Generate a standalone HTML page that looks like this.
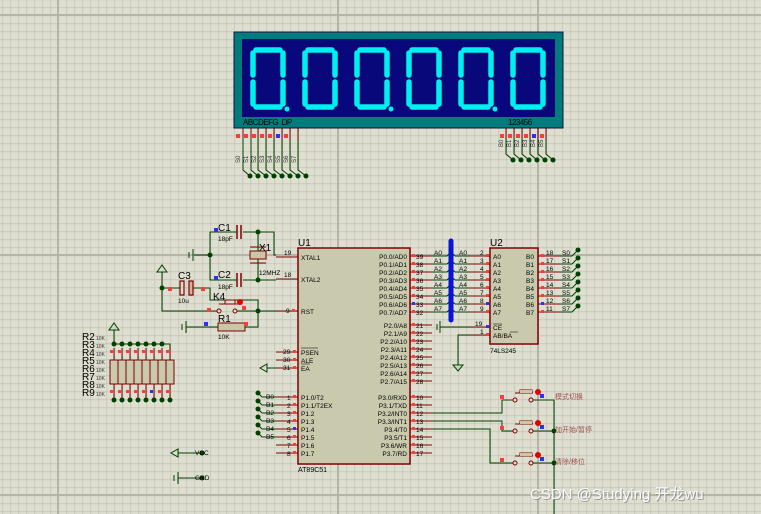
<!DOCTYPE html>
<html><head><meta charset="utf-8"><style>
html,body{margin:0;padding:0;background:#dedfd0;}
svg{display:block}
text{font-family:"Liberation Sans","Noto Sans CJK SC",sans-serif}
</style></head><body>
<svg width="761" height="514" viewBox="0 0 761 514" xmlns="http://www.w3.org/2000/svg">
<defs>
<pattern id="g" x="2.5" y="-0.5" width="8" height="8" patternUnits="userSpaceOnUse">
<path d="M0 0H8M0 0V8" stroke="#bcbdae" stroke-width="1.2" fill="none"/>
</pattern>
</defs>
<rect width="761" height="514" fill="#dedfd0"/>
<rect width="761" height="514" fill="url(#g)"/>
<g stroke="#b4b5a6" stroke-width="2">
<path d="M58 0V514M338 0V514M538 0V514M0 15H761M0 255H761M0 495H761"/>
</g>

<!-- DISPLAY -->
<rect x="234" y="32" width="329" height="96" fill="#007c7c" stroke="#101040" stroke-width="1"/>
<rect x="242" y="39" width="313" height="78" fill="#08087a"/>
<g stroke="#0000a0" stroke-width="0.6"><path d="M294 40V116M346 40V116M398 40V116M450 40V116M502 40V116"/></g>
<g fill="none" stroke="#00f0f0" stroke-width="5.5" stroke-linecap="round" stroke-linejoin="round">
<path d="M256 50H280M283 53V75M283 82V104M256 107H280M253 82V104M253 53V75"/>
<path d="M308 50H332M335 53V75M335 82V104M308 107H332M305 82V104M305 53V75"/>
<path d="M360 50H384M387 53V75M387 82V104M360 107H384M357 82V104M357 53V75"/>
<path d="M412 50H436M439 53V75M439 82V104M412 107H436M409 82V104M409 53V75"/>
<path d="M464 50H488M491 53V75M491 82V104M464 107H488M461 82V104M461 53V75"/>
<path d="M516 50H540M543 53V75M543 82V104M516 107H540M513 82V104M513 53V75"/>
</g>
<g fill="#00f0f0"><circle cx="287" cy="109" r="2.5"/><circle cx="391" cy="109" r="2.5"/><circle cx="495" cy="109" r="2.5"/></g>
<text x="243" y="125" font-size="8" fill="#000" letter-spacing="-0.5">ABCDEFG&#160;&#160;DP</text>
<text x="508" y="125" font-size="8" fill="#000" letter-spacing="-0.5">123456</text>
<!-- segment pins -->
<g stroke="#800000" stroke-width="1"><path d="M243 128V140M251 128V140M258 128V140M266 128V140M274 128V140M282 128V140M290 128V140M298 128V140M506 128V140M514 128V140M522 128V140M530 128V140M538 128V140M546 128V140"/></g>
<g fill="#f04040"><rect x="236" y="134" width="4" height="4"/><rect x="244" y="134" width="4" height="4"/><rect x="252" y="134" width="4" height="4"/><rect x="260" y="134" width="4" height="4"/><rect x="268" y="134" width="4" height="4"/><rect x="284" y="134" width="4" height="4"/><rect x="500" y="134" width="4" height="4"/><rect x="508" y="134" width="4" height="4"/><rect x="516" y="134" width="4" height="4"/><rect x="524" y="134" width="4" height="4"/><rect x="540" y="134" width="4" height="4"/></g>
<g fill="#3030f0"><rect x="276" y="134" width="4" height="4"/><rect x="532" y="134" width="4" height="4"/></g>
<g stroke="#004000" stroke-width="1" fill="none"><path d="M243 140V170L250 176M251 140V170L258 176M258 140V170L266 176M266 140V170L274 176M274 140V170L282 176M282 140V170L290 176M290 140V170L298 176M298 140V170L306 176M506 140V154L513 160M514 140V154L521 160M522 140V154L529 160M530 140V154L537 160M538 140V154L545 160M546 140V154L553 160"/></g>
<g fill="#004000"><circle cx="250" cy="176" r="2.5"/><circle cx="258" cy="176" r="2.5"/><circle cx="266" cy="176" r="2.5"/><circle cx="274" cy="176" r="2.5"/><circle cx="282" cy="176" r="2.5"/><circle cx="290" cy="176" r="2.5"/><circle cx="298" cy="176" r="2.5"/><circle cx="306" cy="176" r="2.5"/>
<circle cx="513" cy="160" r="2.5"/><circle cx="521" cy="160" r="2.5"/><circle cx="529" cy="160" r="2.5"/><circle cx="537" cy="160" r="2.5"/><circle cx="545" cy="160" r="2.5"/><circle cx="553" cy="160" r="2.5"/></g>
<g font-size="6" fill="#333"><text transform="translate(240,163) rotate(-90)">S0</text><text transform="translate(248,163) rotate(-90)">S1</text><text transform="translate(256,163) rotate(-90)">S2</text><text transform="translate(264,163) rotate(-90)">S3</text><text transform="translate(272,163) rotate(-90)">S4</text><text transform="translate(280,163) rotate(-90)">S5</text><text transform="translate(288,163) rotate(-90)">S6</text><text transform="translate(296,163) rotate(-90)">S7</text>
<text transform="translate(503,147) rotate(-90)">B0</text><text transform="translate(511,147) rotate(-90)">B1</text><text transform="translate(519,147) rotate(-90)">B2</text><text transform="translate(527,147) rotate(-90)">B3</text><text transform="translate(535,147) rotate(-90)">B4</text><text transform="translate(543,147) rotate(-90)">B5</text></g>

<!-- U1 -->
<rect x="298" y="248" width="112" height="216" fill="#c9c9ae" stroke="#800000" stroke-width="1.5"/>
<text x="298" y="246" font-size="10">U1</text>
<text x="298" y="472" font-size="7">AT89C51</text>
<g stroke="#800000" stroke-width="1"><path d="M276 257H298M276 279H298M276 311H298M276 352H298M276 360H298M276 368H298M276 397H298M276 405H298M276 413H298M276 421H298M276 429H298M276 437H298M276 445H298M276 453H298
M410 256H432M410 264H432M410 272H432M410 280H432M410 288H432M410 296H432M410 304H432M410 312H432M410 325H432M410 333H432M410 341H432M410 349H432M410 357H432M410 365H432M410 373H432M410 381H432
M410 397H432M410 405H432M410 413H432M410 421H432M410 429H432M410 437H432M410 445H432M410 453H432"/></g>
<g font-size="6.5" fill="#000">
<text x="301" y="260">XTAL1</text><text x="301" y="282">XTAL2</text><text x="301" y="314">RST</text>
<text x="301" y="355">PSEN</text><text x="301" y="363">ALE</text><text x="301" y="371">EA</text>
<text x="301" y="400">P1.0/T2</text><text x="301" y="408">P1.1/T2EX</text><text x="301" y="416">P1.2</text><text x="301" y="424">P1.3</text><text x="301" y="432">P1.4</text><text x="301" y="440">P1.5</text><text x="301" y="448">P1.6</text><text x="301" y="456">P1.7</text>
</g>
<path d="M301 348H318M301 364H310" stroke="#000" stroke-width="0.6"/>
<g font-size="6.5" fill="#000" text-anchor="end">
<text x="407" y="259">P0.0/AD0</text><text x="407" y="267">P0.1/AD1</text><text x="407" y="275">P0.2/AD2</text><text x="407" y="283">P0.3/AD3</text><text x="407" y="291">P0.4/AD4</text><text x="407" y="299">P0.5/AD5</text><text x="407" y="307">P0.6/AD6</text><text x="407" y="315">P0.7/AD7</text>
<text x="407" y="328">P2.0/A8</text><text x="407" y="336">P2.1/A9</text><text x="407" y="344">P2.2/A10</text><text x="407" y="352">P2.3/A11</text><text x="407" y="360">P2.4/A12</text><text x="407" y="368">P2.5/A13</text><text x="407" y="376">P2.6/A14</text><text x="407" y="384">P2.7/A15</text>
<text x="407" y="400">P3.0/RXD</text><text x="407" y="408">P3.1/TXD</text><text x="407" y="416">P3.2/INT0</text><text x="407" y="424">P3.3/INT1</text><text x="407" y="432">P3.4/T0</text><text x="407" y="440">P3.5/T1</text><text x="407" y="448">P3.6/WR</text><text x="407" y="456">P3.7/RD</text>
</g>
<g font-size="6.5" fill="#000">
<text x="416" y="259">39</text><text x="416" y="267">38</text><text x="416" y="275">37</text><text x="416" y="283">36</text><text x="416" y="291">35</text><text x="416" y="299">34</text><text x="416" y="307">33</text><text x="416" y="315">32</text>
<text x="416" y="328">21</text><text x="416" y="336">22</text><text x="416" y="344">23</text><text x="416" y="352">24</text><text x="416" y="360">25</text><text x="416" y="368">26</text><text x="416" y="376">27</text><text x="416" y="384">28</text>
<text x="416" y="400">10</text><text x="416" y="408">11</text><text x="416" y="416">12</text><text x="416" y="424">13</text><text x="416" y="432">14</text><text x="416" y="440">15</text><text x="416" y="448">16</text><text x="416" y="456">17</text>
<text x="284" y="255">19</text><text x="284" y="277">18</text><text x="286" y="313">9</text><text x="283" y="354">29</text><text x="283" y="362">30</text><text x="283" y="370">31</text>
<text x="287" y="400">1</text><text x="287" y="408">2</text><text x="287" y="416">3</text><text x="287" y="424">4</text><text x="287" y="432">5</text><text x="287" y="440">6</text><text x="287" y="448">7</text><text x="287" y="456">8</text>
</g>
<g fill="#f04040"><rect x="412" y="254" width="3" height="3"/><rect x="412" y="262" width="3" height="3"/><rect x="412" y="270" width="3" height="3"/><rect x="412" y="278" width="3" height="3"/><rect x="412" y="286" width="3" height="3"/><rect x="412" y="294" width="3" height="3"/><rect x="412" y="310" width="3" height="3"/>
<rect x="412" y="323" width="3" height="3"/><rect x="412" y="331" width="3" height="3"/><rect x="412" y="339" width="3" height="3"/><rect x="412" y="347" width="3" height="3"/><rect x="412" y="355" width="3" height="3"/><rect x="412" y="363" width="3" height="3"/><rect x="412" y="371" width="3" height="3"/><rect x="412" y="379" width="3" height="3"/>
<rect x="412" y="395" width="3" height="3"/><rect x="412" y="403" width="3" height="3"/><rect x="412" y="411" width="3" height="3"/><rect x="412" y="419" width="3" height="3"/><rect x="412" y="427" width="3" height="3"/><rect x="412" y="435" width="3" height="3"/><rect x="412" y="443" width="3" height="3"/><rect x="412" y="451" width="3" height="3"/>
<rect x="292" y="309" width="3" height="3"/><rect x="293" y="350" width="3" height="3"/><rect x="293" y="358" width="3" height="3"/><rect x="293" y="366" width="3" height="3"/>
<rect x="293" y="395" width="3" height="3"/><rect x="293" y="403" width="3" height="3"/><rect x="293" y="411" width="3" height="3"/><rect x="293" y="419" width="3" height="3"/><rect x="293" y="435" width="3" height="3"/><rect x="293" y="443" width="3" height="3"/><rect x="293" y="451" width="3" height="3"/></g>
<g fill="#3030f0"><rect x="412" y="302" width="3" height="3"/><rect x="293" y="427" width="3" height="3"/></g>

<!-- bus -->
<g stroke="#004000" stroke-width="1" fill="none"><path d="M432 256H447L451 252M432 264H447L451 260M432 272H447L451 268M432 280H447L451 276M432 288H447L451 284M432 296H447L451 292M432 304H447L451 300M432 312H447L451 308
M470 256H455L451 252M470 264H455L451 260M470 272H455L451 268M470 280H455L451 276M470 288H455L451 284M470 296H455L451 292M470 304H455L451 300M470 312H455L451 308"/></g>
<path d="M451 241V320" stroke="#0a14d8" stroke-width="5" stroke-linecap="round"/>
<g font-size="6.5" fill="#000"><text x="434" y="255">A0</text><text x="434" y="263">A1</text><text x="434" y="271">A2</text><text x="434" y="279">A3</text><text x="434" y="287">A4</text><text x="434" y="295">A5</text><text x="434" y="303">A6</text><text x="434" y="311">A7</text>
<text x="459" y="255">A0</text><text x="459" y="263">A1</text><text x="459" y="271">A2</text><text x="459" y="279">A3</text><text x="459" y="287">A4</text><text x="459" y="295">A5</text><text x="459" y="303">A6</text><text x="459" y="311">A7</text></g>

<!-- U2 -->
<rect x="490" y="248" width="48" height="96" fill="#c9c9ae" stroke="#800000" stroke-width="1.5"/>
<text x="490" y="246" font-size="10">U2</text>
<text x="490" y="353" font-size="6.5">74LS245</text>
<g stroke="#800000" stroke-width="1"><path d="M470 256H490M470 264H490M470 272H490M470 280H490M470 288H490M470 296H490M470 304H490M470 312H490M470 327H490M470 335H490
M538 256H560M538 264H560M538 272H560M538 280H560M538 288H560M538 296H560M538 304H560M538 312H560"/></g>
<g font-size="6.5" fill="#000">
<text x="493" y="259">A0</text><text x="493" y="267">A1</text><text x="493" y="275">A2</text><text x="493" y="283">A3</text><text x="493" y="291">A4</text><text x="493" y="299">A5</text><text x="493" y="307">A6</text><text x="493" y="315">A7</text>
<text x="493" y="330">CE</text><text x="493" y="338">AB/BA</text>
<text x="526" y="259">B0</text><text x="526" y="267">B1</text><text x="526" y="275">B2</text><text x="526" y="283">B3</text><text x="526" y="291">B4</text><text x="526" y="299">B5</text><text x="526" y="307">B6</text><text x="526" y="315">B7</text>
<text x="480" y="255">2</text><text x="480" y="263">3</text><text x="480" y="271">4</text><text x="480" y="279">5</text><text x="480" y="287">6</text><text x="480" y="295">7</text><text x="480" y="303">8</text><text x="480" y="311">9</text><text x="475" y="326">19</text><text x="480" y="334">1</text>
<text x="546" y="255">18</text><text x="546" y="263">17</text><text x="546" y="271">16</text><text x="546" y="279">15</text><text x="546" y="287">14</text><text x="546" y="295">13</text><text x="546" y="303">12</text><text x="546" y="311">11</text>
<text x="562" y="255">S0</text><text x="562" y="263">S1</text><text x="562" y="271">S2</text><text x="562" y="279">S3</text><text x="562" y="287">S4</text><text x="562" y="295">S5</text><text x="562" y="303">S6</text><text x="562" y="311">S7</text>
</g>
<path d="M493 324H502M510 332H518" stroke="#000" stroke-width="0.6"/>
<g fill="#f04040"><rect x="486" y="254" width="3" height="3"/><rect x="486" y="262" width="3" height="3"/><rect x="486" y="270" width="3" height="3"/><rect x="486" y="278" width="3" height="3"/><rect x="486" y="286" width="3" height="3"/><rect x="486" y="294" width="3" height="3"/><rect x="486" y="310" width="3" height="3"/><rect x="486" y="333" width="3" height="3"/>
<rect x="541" y="254" width="3" height="3"/><rect x="541" y="262" width="3" height="3"/><rect x="541" y="270" width="3" height="3"/><rect x="541" y="278" width="3" height="3"/><rect x="541" y="286" width="3" height="3"/><rect x="541" y="294" width="3" height="3"/><rect x="541" y="310" width="3" height="3"/></g>
<g fill="#3030f0"><rect x="486" y="302" width="3" height="3"/><rect x="486" y="325" width="3" height="3"/><rect x="541" y="302" width="3" height="3"/></g>
<g stroke="#004000" stroke-width="1" fill="none"><path d="M560 256H572L578 250M560 264H572L578 258M560 272H572L578 266M560 280H572L578 274M560 288H572L578 282M560 296H572L578 290M560 304H572L578 298M560 312H572L578 306"/>
<path d="M470 327H440M440 321V333M437 324V330M470 335H458V365"/><path d="M453 365H463L458 371Z"/></g>
<g fill="#004000"><circle cx="578" cy="250" r="2.5"/><circle cx="578" cy="258" r="2.5"/><circle cx="578" cy="266" r="2.5"/><circle cx="578" cy="274" r="2.5"/><circle cx="578" cy="282" r="2.5"/><circle cx="578" cy="290" r="2.5"/><circle cx="578" cy="298" r="2.5"/><circle cx="578" cy="306" r="2.5"/></g>

<!-- buttons -->
<g stroke="#004000" stroke-width="1" fill="none"><path d="M432 413H502V400H512M432 421H502V431H512M432 429H490V463H512M533 400H554V514"/><path d="M533 431H554M533 463H554"/></g>
<g fill="#004000"><circle cx="554" cy="431" r="2.5"/><circle cx="554" cy="463" r="2.5"/></g>
<g stroke="#800000" stroke-width="1" fill="none">
<path d="M512 400h3M531 400h2M515 393H533M520 390h12v3h-12z"/><circle cx="515" cy="400" r="2" fill="#dedfd0"/><circle cx="531" cy="400" r="2" fill="#dedfd0"/>
<path d="M512 431h3M531 431h2M515 424H533M520 421h12v3h-12z"/><circle cx="515" cy="431" r="2" fill="#dedfd0"/><circle cx="531" cy="431" r="2" fill="#dedfd0"/>
<path d="M512 463h3M531 463h2M515 456H533M520 453h12v3h-12z"/><circle cx="515" cy="463" r="2" fill="#dedfd0"/><circle cx="531" cy="463" r="2" fill="#dedfd0"/>
</g>
<g fill="#c8c8a8"><rect x="520" y="390" width="12" height="3"/><rect x="520" y="421" width="12" height="3"/><rect x="520" y="453" width="12" height="3"/></g>
<g fill="#e00000"><circle cx="538" cy="392" r="3"/><circle cx="538" cy="423" r="3"/><circle cx="538" cy="455" r="3"/></g>
<g fill="#3030f0"><rect x="540" y="394" width="4" height="4"/><rect x="540" y="425" width="4" height="4"/><rect x="540" y="457" width="4" height="4"/></g>
<g fill="#f04040"><rect x="500" y="395" width="4" height="4"/><rect x="500" y="426" width="4" height="4"/><rect x="500" y="458" width="4" height="4"/></g>
<g font-size="7" fill="#a05050"><text x="555" y="399">模式切换</text><text x="555" y="432">加开始/暂停</text><text x="555" y="464">清除/移位</text></g>

<!-- clock / reset -->
<g stroke="#004000" stroke-width="1" fill="none">
<path d="M237 232H210V280H237M243 232H274V255H276M243 280H276M194 255H210M193 249V261M189 252V258"/>
<path d="M258 232V251M258 259V280"/>
<path d="M162 272V311H216M238 311H276M193 288H210V300H258V327H245M218 327H186M186 321V333M182 324V330M162 288H180"/>
</g>
<path d="M157 272H167L162 265Z" fill="none" stroke="#004000"/>
<g stroke="#800000" stroke-width="1.5" fill="none"><path d="M237 225V239M241 225V239M237 273V287M241 273V287"/></g>
<rect x="250" y="251" width="16" height="8" fill="#c8c8a8" stroke="#800000"/>
<path d="M250 247H266M250 263H266" stroke="#800000"/>
<rect x="180" y="281" width="4" height="14" fill="none" stroke="#800000" stroke-width="1.2"/>
<rect x="189" y="281" width="4" height="14" fill="#d8b0a0" stroke="#800000" stroke-width="1.2"/>
<rect x="218" y="323" width="27" height="8" fill="#c8c8a8" stroke="#800000"/>
<g stroke="#800000" fill="none"><path d="M216 311h2M236 311h2M219 304H238M225 300h10v4h-10z"/><circle cx="219" cy="311" r="2" fill="#dedfd0"/><circle cx="235" cy="311" r="2" fill="#dedfd0"/></g>
<circle cx="240" cy="302" r="3" fill="#e00000"/>
<g fill="#004000"><circle cx="210" cy="255" r="2.5"/><circle cx="258" cy="232" r="2.5"/><circle cx="258" cy="280" r="2.5"/><circle cx="162" cy="288" r="2.5"/><circle cx="258" cy="311" r="2.5"/></g>
<g fill="#3030f0"><rect x="214" y="228" width="4" height="4"/><rect x="214" y="276" width="4" height="4"/><rect x="204" y="322" width="4" height="4"/></g>
<g fill="#f04040"><rect x="168" y="287" width="4" height="4"/><rect x="201" y="287" width="4" height="4"/><rect x="207" y="308" width="4" height="4"/><rect x="242" y="306" width="4" height="4"/><rect x="244" y="322" width="4" height="4"/></g>
<g fill="#000"><text x="218" y="231" font-size="10">C1</text><text x="218" y="278" font-size="10">C2</text><text x="259" y="251" font-size="10">X1</text><text x="178" y="279" font-size="10">C3</text><text x="213" y="300" font-size="10">K4</text><text x="218" y="322" font-size="10">R1</text>
<text x="218" y="241" font-size="6.5">18pF</text><text x="218" y="289" font-size="6.5">18pF</text><text x="259" y="275" font-size="6.5">12MHZ</text><text x="178" y="303" font-size="6.5">10u</text><text x="218" y="339" font-size="6.5">10K</text></g>

<!-- resistor array -->
<path d="M114 344H170V360M114 344V330" stroke="#004000" fill="none"/>
<path d="M109 330H119L114 323Z" fill="none" stroke="#004000"/>
<g stroke="#800000"><path d="M114 348V400M122 348V400M130 348V400M138 348V400M146 348V400M154 348V400M162 348V400M170 348V400"/></g>
<rect x="110" y="360" width="64" height="24" fill="#c9c9ae" stroke="#800000"/>
<g stroke="#800000"><path d="M118 360V384M126 360V384M134 360V384M142 360V384M150 360V384M158 360V384M166 360V384"/></g>
<g fill="#004000"><circle cx="114" cy="344" r="2.5"/><circle cx="122" cy="344" r="2.5"/><circle cx="130" cy="344" r="2.5"/><circle cx="138" cy="344" r="2.5"/><circle cx="146" cy="344" r="2.5"/><circle cx="154" cy="344" r="2.5"/><circle cx="162" cy="344" r="2.5"/>
<circle cx="114" cy="400" r="2.5"/><circle cx="122" cy="400" r="2.5"/><circle cx="130" cy="400" r="2.5"/><circle cx="138" cy="400" r="2.5"/><circle cx="146" cy="400" r="2.5"/><circle cx="154" cy="400" r="2.5"/><circle cx="162" cy="400" r="2.5"/><circle cx="170" cy="400" r="2.5"/></g>
<g fill="#f04040"><rect x="110" y="350" width="3" height="3"/><rect x="118" y="350" width="3" height="3"/><rect x="126" y="350" width="3" height="3"/><rect x="134" y="350" width="3" height="3"/><rect x="142" y="350" width="3" height="3"/><rect x="150" y="350" width="3" height="3"/><rect x="158" y="350" width="3" height="3"/><rect x="166" y="350" width="3" height="3"/>
<rect x="110" y="390" width="3" height="3"/><rect x="118" y="390" width="3" height="3"/><rect x="126" y="390" width="3" height="3"/><rect x="134" y="390" width="3" height="3"/><rect x="142" y="390" width="3" height="3"/><rect x="158" y="390" width="3" height="3"/><rect x="166" y="390" width="3" height="3"/></g>
<rect x="150" y="390" width="3" height="3" fill="#3030f0"/>
<g font-size="10" fill="#000"><text x="82" y="340">R2</text><text x="82" y="348">R3</text><text x="82" y="356">R4</text><text x="82" y="364">R5</text><text x="82" y="372">R6</text><text x="82" y="380">R7</text><text x="82" y="388">R8</text><text x="82" y="396">R9</text></g>
<g font-size="5" fill="#333"><text x="96" y="340">10K</text><text x="96" y="348">10K</text><text x="96" y="356">10K</text><text x="96" y="364">10K</text><text x="96" y="372">10K</text><text x="96" y="380">10K</text><text x="96" y="388">10K</text><text x="96" y="396">10K</text></g>

<!-- P1 labels, EA, VCC/GND -->
<g stroke="#004000" fill="none"><path d="M258 393L262 397H276M258 401L262 405H276M258 409L262 413H276M258 417L262 421H276M258 425L262 429H276M258 433L262 437H276"/>
<path d="M267 368H276M178 453H202M178 478H202M178 472V484M174 475V481"/><path d="M267 364V372L260 368Z"/><path d="M178 449V457L171 453Z"/></g>
<g fill="#004000"><circle cx="258" cy="393" r="2.5"/><circle cx="258" cy="401" r="2.5"/><circle cx="258" cy="409" r="2.5"/><circle cx="258" cy="417" r="2.5"/><circle cx="258" cy="425" r="2.5"/><circle cx="258" cy="433" r="2.5"/><circle cx="202" cy="453" r="2.5"/><circle cx="202" cy="478" r="2.5"/></g>
<g font-size="6.5" fill="#000"><text x="274" y="399" text-anchor="end">B0</text><text x="274" y="407" text-anchor="end">B1</text><text x="274" y="415" text-anchor="end">B2</text><text x="274" y="423" text-anchor="end">B3</text><text x="274" y="431" text-anchor="end">B4</text><text x="274" y="439" text-anchor="end">B5</text>
<text x="195" y="455">VCC</text><text x="195" y="480">GND</text></g>

<text x="531" y="500" font-size="15" fill="#888" opacity="0.8">CSDN @Studying 开龙wu</text>
<text x="530" y="499" font-size="15" fill="#fafafa">CSDN @Studying 开龙wu</text>
</svg>
</body></html>
